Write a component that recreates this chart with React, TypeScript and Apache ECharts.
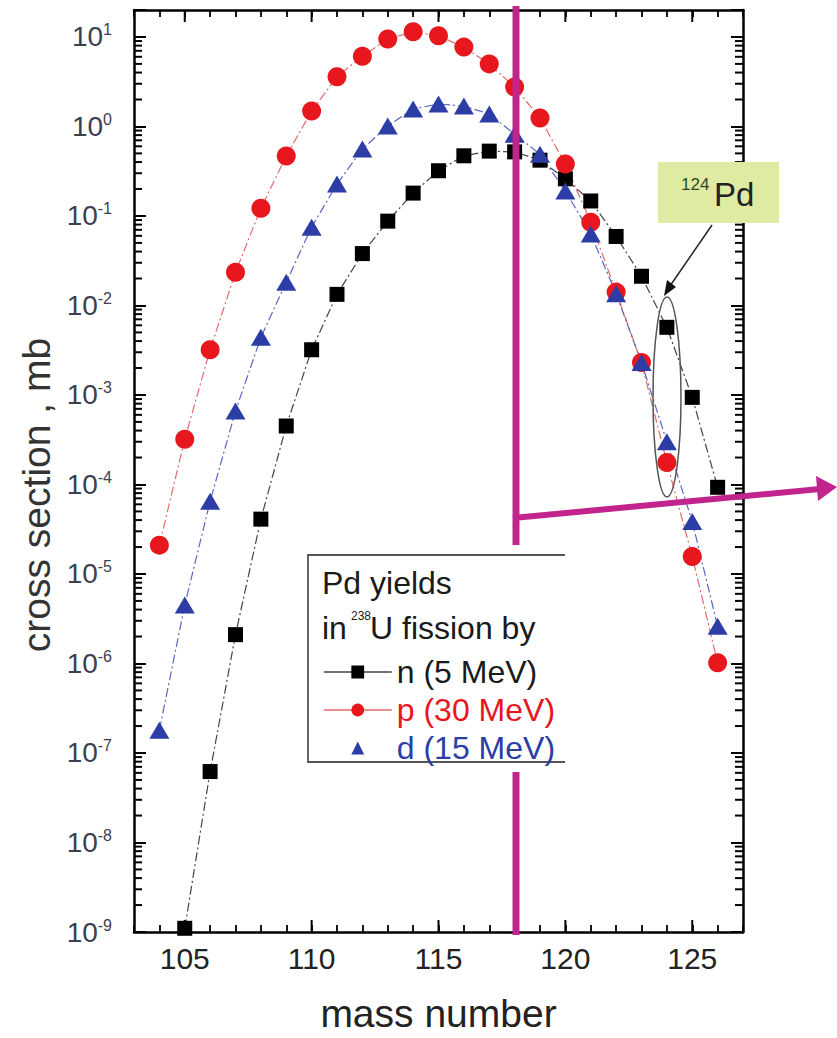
import React, { useEffect, useRef } from "react";
import * as echarts from "echarts";

// ---- data ----
const massNumbers = [104, 105, 106, 107, 108, 109, 110, 111, 112, 113, 114, 115, 116, 117, 118, 119, 120, 121, 122, 123, 124, 125, 126];
const nYield = [null, 1.1e-9, 6.2e-8, 2.1e-6, 4.1e-5, 4.5e-4, 3.2e-3, 0.0133, 0.038, 0.0875, 0.18, 0.32, 0.47, 0.53, 0.52, 0.42, 0.26, 0.147, 0.059, 0.0212, 5.7e-3, 9.4e-4, 9.3e-5];
const pYield = [2.1e-5, 3.2e-4, 3.2e-3, 2.35e-2, 0.122, 0.467, 1.49, 3.6, 6.1, 9.5, 11.4, 10.3, 7.7, 5.0, 2.76, 1.24, 0.38, 0.085, 0.0141, 2.3e-3, 1.76e-4, 1.57e-5, 1.02e-6];
const dYield = [1.8e-7, 4.5e-6, 6.5e-5, 6.6e-4, 4.4e-3, 0.0182, 0.075, 0.227, 0.56, 1.01, 1.57, 1.78, 1.69, 1.38, 0.82, 0.49, 0.19, 0.063, 0.0135, 2.3e-3, 3.0e-4, 3.85e-5, 2.6e-6];
const seriesNames = ["n (5 MeV)", "p (30 MeV)", "d (15 MeV)"];
const xMin = 103;
const xMax = 127;
const yMin = 1e-9;
const yMax = 20;
const xMajorTicks = [105, 110, 115, 120, 125];
const yMinorMultipliers = [2, 3, 4, 5, 6, 7, 8, 9];
const yDecades = [-9, -8, -7, -6, -5, -4, -3, -2, -1, 0, 1];

const FONT = "'Liberation Sans', Arial, Helvetica, sans-serif";
const NARROW = "'Liberation Sans Narrow', 'Liberation Sans', Arial, sans-serif";
const RED = "#e8161d";
const BLUE = "#2c3ea6";
const MAGENTA = "#c2248e";

function pairs(arr: (number | null)[]) {
  const out: [number, number][] = [];
  massNumbers.forEach((m, i) => {
    const v = arr[i];
    if (v != null) out.push([m, v]);
  });
  return out;
}

const annotations: any[] = [
  { type: "rect", z: 8, shape: { x: 308, y: 555, width: 257, height: 207 }, style: { fill: "#fff" } },
  {
    type: "polyline",
    z: 9,
    shape: { points: [[565, 555], [308, 555], [308, 762], [565, 762]] },
    style: { stroke: "#555", lineWidth: 1.8, fill: null },
  },
  { type: "text", z: 9, style: { text: "Pd yields", x: 322, y: 583, fontSize: 32, fontFamily: FONT, fill: "#1a1a1a", verticalAlign: "middle" } },
  { type: "text", z: 9, style: { text: "in", x: 322, y: 628, fontSize: 32, fontFamily: FONT, fill: "#1a1a1a", verticalAlign: "middle" } },
  { type: "text", z: 9, style: { text: "238", x: 351, y: 616, fontSize: 12, fontFamily: FONT, fill: "#1a1a1a", verticalAlign: "middle" } },
  { type: "text", z: 9, style: { text: "U fission by", x: 370, y: 628, fontSize: 32, fontFamily: FONT, fill: "#1a1a1a", verticalAlign: "middle" } },
  { type: "line", z: 20, shape: { x1: 516, y1: 6, x2: 516, y2: 545 }, style: { stroke: MAGENTA, lineWidth: 7 } },
  { type: "line", z: 20, shape: { x1: 516, y1: 772, x2: 516, y2: 935 }, style: { stroke: MAGENTA, lineWidth: 7 } },
  { type: "line", z: 20, shape: { x1: 513, y1: 518, x2: 820, y2: 489 }, style: { stroke: MAGENTA, lineWidth: 6 } },
  { type: "polygon", z: 20, shape: { points: [[818, 501], [837, 487], [816, 476]] }, style: { fill: MAGENTA } },
  { type: "rect", z: 12, shape: { x: 658, y: 162, width: 121, height: 61 }, style: { fill: "#dfeaa2" } },
  { type: "text", z: 13, style: { text: "124", x: 681, y: 184, fontSize: 17, fontFamily: FONT, fill: "#2f4a2a", verticalAlign: "middle" } },
  { type: "text", z: 13, style: { text: "Pd", x: 714, y: 194, fontSize: 33, fontFamily: FONT, fill: "#222", verticalAlign: "middle" } },
  { type: "line", z: 13, shape: { x1: 712, y1: 225, x2: 670, y2: 286 }, style: { stroke: "#222", lineWidth: 1.5 } },
  { type: "polygon", z: 13, shape: { points: [[664, 296], [676, 287], [667, 280]] }, style: { fill: "#111" } },
  { type: "ellipse", z: 13, shape: { cx: 667, cy: 397, rx: 14, ry: 100 }, style: { stroke: "#555", lineWidth: 1.5, fill: null } },
];

export default function App() {
  const ref = useRef<HTMLDivElement>(null);
  useEffect(() => {
    if (!ref.current) return;
    const chart = echarts.init(ref.current, null, { renderer: "svg" });

    const option: any = {
      animation: false,
      backgroundColor: "#fff",
      grid: { left: 134, right: 94, top: 10, bottom: 106, containLabel: false },
      xAxis: [
        {
          type: "value",
          position: "bottom",
          min: xMin,
          max: xMax,
          interval: 1,
          name: "mass number",
          nameLocation: "middle",
          nameGap: 62,
          nameTextStyle: { fontSize: 39, color: "#222", fontFamily: FONT },
          axisLine: { show: true, onZero: false, lineStyle: { color: "#000", width: 2.5 } },
          axisTick: { show: true, inside: true, length: 7, lineStyle: { color: "#000", width: 1.8 } },
          splitLine: { show: false },
          axisLabel: {
            margin: 11,
            fontSize: 30,
            color: "#222",
            fontFamily: FONT,
            formatter: (v: number) => (Math.round(v) % 5 === 0 ? String(Math.round(v)) : ""),
          },
        },
        {
          type: "value",
          position: "top",
          min: xMin,
          max: xMax,
          interval: 1,
          axisLine: { show: true, onZero: false, lineStyle: { color: "#000", width: 2.5 } },
          axisTick: { show: true, inside: true, length: 7, lineStyle: { color: "#000", width: 1.8 } },
          splitLine: { show: false },
          axisLabel: { show: false },
        },
      ],
      yAxis: [
        {
          type: "log",
          logBase: 10,
          position: "left",
          min: yMin,
          max: yMax,
          interval: 1,
          name: "cross section , mb",
          nameLocation: "middle",
          nameGap: 76,
          nameRotate: 90,
          nameTextStyle: { fontSize: 39, color: "#333", fontFamily: FONT, padding: [0, 48, 0, 0] },
          axisLine: { show: true, onZero: false, lineStyle: { color: "#000", width: 2.5 } },
          axisTick: { show: true, inside: true, length: 12, lineStyle: { color: "#000", width: 2 } },
          splitLine: { show: false },
          minorTick: { show: false },
          axisLabel: {
            margin: 22,
            color: "#3a4050",
            formatter: (v: number) => {
              const e = Math.log10(v);
              const r = Math.round(e);
              if (Math.abs(e - r) > 1e-6) return "";
              return `{b|10}{s|${r}}`;
            },
            rich: {
              b: { fontSize: 28, fontFamily: NARROW, color: "#3a4050", lineHeight: 30 },
              s: { fontSize: 16, fontFamily: NARROW, color: "#3a4050", verticalAlign: "top", lineHeight: 16 },
            },
          },
        },
        {
          type: "log",
          logBase: 10,
          position: "right",
          min: yMin,
          max: yMax,
          interval: 1,
          axisLine: { show: true, onZero: false, lineStyle: { color: "#000", width: 2.5 } },
          axisTick: { show: true, inside: true, length: 12, lineStyle: { color: "#000", width: 2 } },
          splitLine: { show: false },
          axisLabel: { show: false },
        },
      ],
      legend: {
        orient: "vertical",
        left: 318,
        top: 649,
        itemWidth: 68,
        itemHeight: 16,
        itemGap: 2,
        z: 10,
        textStyle: { fontSize: 32, lineHeight: 36, fontFamily: FONT },
        lineStyle: { type: "solid", width: 1.5 },
        data: [
          { name: seriesNames[0], textStyle: { color: "#1a1a1a" } },
          { name: seriesNames[1], textStyle: { color: RED } },
          { name: seriesNames[2], textStyle: { color: BLUE }, lineStyle: { opacity: 0 } },
        ],
      },
      series: [
        {
          name: seriesNames[0],
          type: "line",
          data: pairs(nYield),
          symbol: "rect",
          symbolSize: 15,
          itemStyle: { color: "#000" },
          lineStyle: { color: "#444", width: 1.2, type: [9, 3, 2, 3] },
          z: 2,
        },
        {
          name: seriesNames[1],
          type: "line",
          data: pairs(pYield),
          symbol: "circle",
          symbolSize: 19,
          itemStyle: { color: RED },
          lineStyle: { color: "#e46a6a", width: 1.2, type: [9, 3, 2, 3] },
          z: 2,
        },
        {
          name: seriesNames[2],
          type: "line",
          data: pairs(dYield),
          symbol: "triangle",
          symbolSize: [20, 17],
          itemStyle: { color: BLUE },
          lineStyle: { color: "#5d66c2", width: 1.2, type: [9, 3, 2, 3] },
          z: 2,
        },
      ],
    };

    chart.setOption(option);

    // minor (log) and major ticks placed through the chart's own scales
    const finder = { seriesIndex: 0 };
    const toPx = (x: number, y: number): number[] | null => {
      const p = chart.convertToPixel(finder, [x, y]) as any;
      if (!p || !isFinite(p[0]) || !isFinite(p[1])) return null;
      return p;
    };
    const ticks: any[] = [];
    const bar = (x: number, y: number, w: number, h: number) => ({
      type: "rect",
      z: 11,
      shape: { x, y, width: w, height: h },
      style: { fill: "#000" },
    });
    yDecades.forEach((d) => {
      yMinorMultipliers.forEach((m) => {
        const v = m * Math.pow(10, d);
        if (v >= yMax) return;
        const l = toPx(xMin, v);
        const r = toPx(xMax, v);
        if (l) ticks.push(bar(l[0], l[1] - 1, 8, 2));
        if (r) ticks.push(bar(r[0] - 8, r[1] - 1, 8, 2));
      });
    });
    xMajorTicks.forEach((t) => {
      const b = toPx(t, yMin);
      const tp = toPx(t, yMax);
      if (b) ticks.push(bar(b[0] - 1, b[1] - 12, 2, 12));
      if (tp) ticks.push(bar(tp[0] - 1, tp[1], 2, 12));
    });

    chart.setOption({ graphic: [...annotations, ...ticks] });
    return () => chart.dispose();
  }, []);

  return (
    <div style={{ position: "absolute", left: 0, top: 0, width: 837, height: 1038, background: "#fff" }}>
      <div ref={ref} style={{ width: 837, height: 1038 }} />
    </div>
  );
}
